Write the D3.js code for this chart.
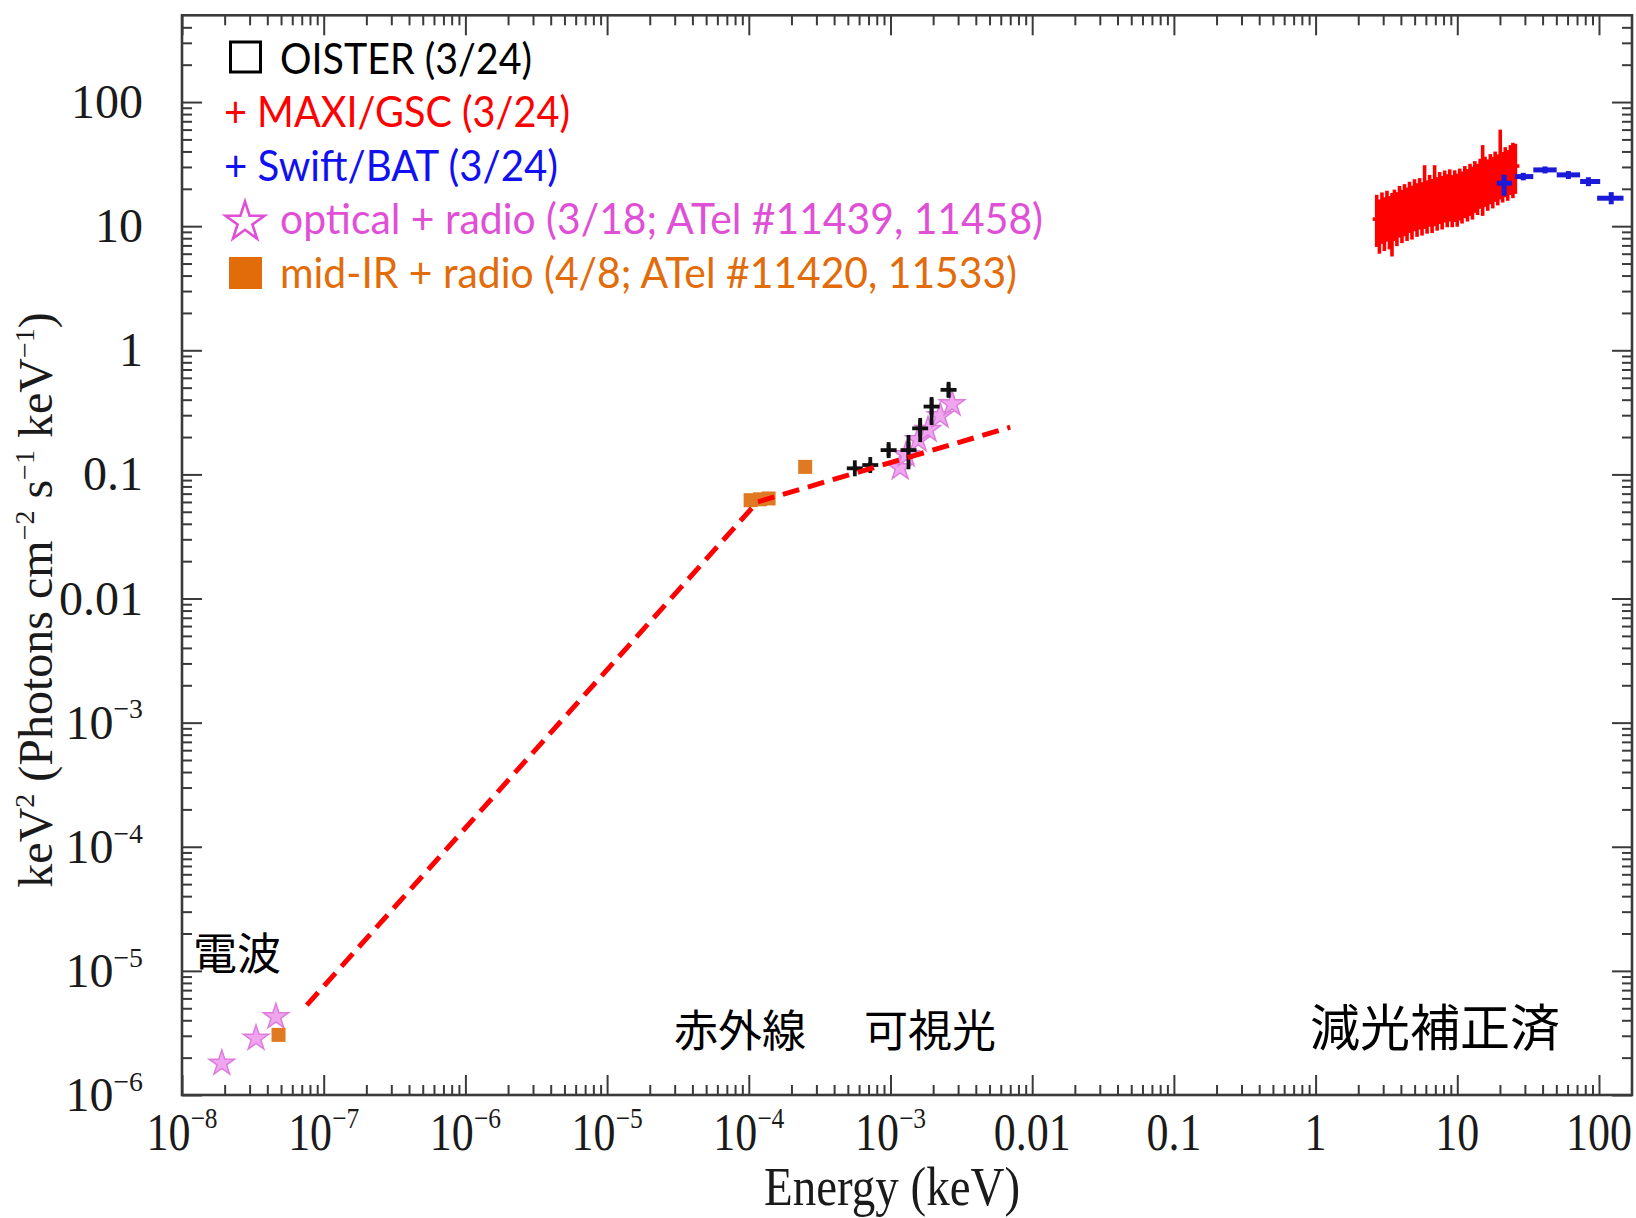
<!DOCTYPE html>
<html><head><meta charset="utf-8">
<script src="https://cdn.jsdelivr.net/npm/d3@7"></script>
<style>body{margin:0;background:#fff;} svg{display:block;}</style>
</head><body>
<svg id="chart" width="1636" height="1218"></svg>
<script>
// ---------- data ----------
const xTickValues = [1e-8, 1e-7, 1e-6, 1e-5, 1e-4, 1e-3, 0.01, 0.1, 1, 10, 100];
const xTickLabels = ["10^−8", "10^−7", "10^−6", "10^−5", "10^−4", "10^−3", "0.01", "0.1", "1", "10", "100"];
const yTickValues = [1e-6, 1e-5, 1e-4, 1e-3, 0.01, 0.1, 1, 10, 100];
const yTickLabels = ["10^−6", "10^−5", "10^−4", "10^−3", "0.01", "0.1", "1", "10", "100"];

// OISTER (black crosses)
const oisterE  = [5.6e-4, 7.2e-4, 9.7e-4, 1.34e-3, 1.62e-3, 1.95e-3, 2.57e-3];
const oisterF  = [0.112, 0.119, 0.157, 0.157, 0.235, 0.352, 0.48];
const oisterLo = [0.106, 0.112, 0.140, 0.110, 0.182, 0.25, 0.42];
const oisterHi = [0.118, 0.126, 0.176, 0.208, 0.285, 0.42, 0.54];

// optical + radio (violet stars)
const starE = [1.91e-8, 3.33e-8, 4.6e-8, 1.17e-3, 1.29e-3, 1.57e-3, 1.84e-3, 2.24e-3, 2.72e-3];
const starF = [1.8e-6, 2.86e-6, 4.27e-6, 0.113, 0.144, 0.19, 0.229, 0.296, 0.37];

// mid-IR + radio (orange squares)
const irE = [4.8e-8, 1.03e-4, 1.2e-4, 1.38e-4, 2.5e-4];
const irF = [3.05e-6, 0.062, 0.063, 0.064, 0.115];

// broken power-law model (red dashed)
const modelE = [7.6e-8, 1.15e-4, 7.0e-3];
const modelF = [5.3e-6, 0.060, 0.24];

// MAXI/GSC (red)
const maxiE = [2.70, 2.82, 2.94, 3.06, 3.19, 3.32, 3.46, 3.60, 3.75, 3.91, 4.07, 4.24, 4.42, 4.60, 4.79, 4.99, 5.20, 5.42, 5.64, 5.88, 6.12, 6.38, 6.64, 6.92, 7.21, 7.51, 7.82, 8.15, 8.49, 8.84, 9.21, 9.59, 9.99, 10.4, 10.8, 11.3, 11.8, 12.3, 12.8, 13.3, 13.9, 14.5, 15.1, 15.7, 16.4, 17.1, 17.8, 18.5, 19.3, 20.1, 20.9, 21.8, 22.7, 23.7, 24.7, 25.7];
const maxiF = [11.4, 10.3, 11.9, 10.8, 12.3, 11.1, 11.6, 12.6, 11.9, 13.4, 12.5, 13.9, 13.0, 14.6, 13.5, 15.2, 14.1, 15.6, 14.4, 16.0, 14.9, 16.5, 15.3, 16.9, 15.8, 17.4, 16.2, 17.9, 16.7, 18.3, 16.4, 18.0, 16.9, 18.6, 17.6, 19.4, 18.4, 20.3, 19.3, 21.3, 21.0, 23.1, 22.0, 24.0, 22.8, 25.2, 23.9, 26.4, 25.0, 27.5, 26.2, 28.7, 27.1, 29.8, 28.4, 30.5];
const maxiLo = [6.8, 6.0, 7.2, 6.3, 7.5, 6.5, 5.7, 7.6, 6.9, 8.1, 7.3, 8.3, 7.6, 8.8, 7.8, 9.1, 8.2, 9.4, 8.4, 9.5, 8.7, 9.9, 8.8, 10.0, 9.2, 10.4, 9.4, 10.7, 9.8, 10.9, 9.8, 10.8, 9.9, 11.1, 10.5, 11.6, 10.9, 12.1, 11.3, 12.8, 12.3, 13.8, 12.1, 14.3, 13.3, 15.0, 13.9, 15.7, 14.7, 16.4, 15.5, 17.1, 16.0, 17.8, 16.8, 18.2];
const maxiHi = [17.9, 16.4, 18.7, 17.1, 19.3, 17.5, 18.5, 19.7, 18.8, 21.1, 19.6, 21.8, 20.5, 22.8, 21.2, 23.9, 22.2, 24.4, 22.6, 31.0, 23.4, 25.9, 24.0, 31.0, 24.8, 27.3, 25.4, 28.1, 26.2, 28.7, 25.8, 28.2, 26.5, 29.1, 27.6, 30.5, 28.9, 31.8, 30.2, 33.4, 31.8, 34.9, 45.0, 36.3, 34.5, 38.1, 36.2, 39.9, 37.9, 60.0, 39.6, 43.3, 41.0, 45.0, 47.0, 46.1];

// Swift/BAT (blue)
const batE   = [21.4, 29.2, 41.6, 60.8, 84.2, 122];
const batElo = [19.0, 25.6, 34.4, 50.3, 73.6, 97];
const batEhi = [24.3, 34.4, 50.3, 73.6, 102, 149];
const batF   = [22.2, 25.1, 28.4, 25.9, 22.9, 16.8];
const batFlo = [17.6, 23.4, 26.6, 24.0, 21.0, 15.0];
const batFhi = [26.0, 26.9, 30.3, 27.8, 24.8, 18.8];

const legendItems = ["OISTER (3/24)", "+ MAXI/GSC (3/24)", "+ Swift/BAT (3/24)", "optical + radio (3/18; ATel #11439, 11458)", "mid-IR + radio (4/8; ATel #11420, 11533)"];
const legendColors = ["#000000", "#ff0000", "#1010f0", "#e050d6", "#e36c0a"];
const bandLabels = ["電波", "赤外線", "可視光", "減光補正済"];

// ---------- layout ----------
const X0 = 182, X1 = 1632, Y0 = 1095, Y1 = 15.3;
const svg = d3.select('#chart');
const x = d3.scaleLog().domain([1e-8, 171]).range([X0, X1]);
const y = d3.scaleLog().domain([1e-6, 500]).range([Y0, Y1]);

const minorX = [], minorY = [];
for (let d = -8; d <= 2; d++) for (let k = 2; k <= 9; k++) { const v = k * Math.pow(10, d); if (v < 171) minorX.push(v); }
for (let d = -6; d <= 2; d++) for (let k = 2; k <= 9; k++) { const v = k * Math.pow(10, d); if (v < 500) minorY.push(v); }

const axisColor = "#3a3a3a";
function styleAxis(g) { g.select('.domain').remove(); g.selectAll('line').attr('stroke', axisColor).attr('stroke-width', 2); }

// ticks (inward)
svg.append('g').attr('transform', `translate(0,${Y0})`).call(d3.axisBottom(x).tickValues(xTickValues).tickSize(-20).tickFormat('')).call(styleAxis);
svg.append('g').attr('transform', `translate(0,${Y0})`).call(d3.axisBottom(x).tickValues(minorX).tickSize(-10).tickFormat('')).call(styleAxis);
svg.append('g').attr('transform', `translate(0,${Y1})`).call(d3.axisTop(x).tickValues(xTickValues).tickSize(-20).tickFormat('')).call(styleAxis);
svg.append('g').attr('transform', `translate(0,${Y1})`).call(d3.axisTop(x).tickValues(minorX).tickSize(-10).tickFormat('')).call(styleAxis);
svg.append('g').attr('transform', `translate(${X0},0)`).call(d3.axisLeft(y).tickValues(yTickValues).tickSize(-20).tickFormat('')).call(styleAxis);
svg.append('g').attr('transform', `translate(${X0},0)`).call(d3.axisLeft(y).tickValues(minorY).tickSize(-10).tickFormat('')).call(styleAxis);
svg.append('g').attr('transform', `translate(${X1},0)`).call(d3.axisRight(y).tickValues(yTickValues).tickSize(-20).tickFormat('')).call(styleAxis);
svg.append('g').attr('transform', `translate(${X1},0)`).call(d3.axisRight(y).tickValues(minorY).tickSize(-10).tickFormat('')).call(styleAxis);

svg.append('rect').attr('x', X0).attr('y', Y1).attr('width', X1 - X0).attr('height', Y0 - Y1)
  .attr('fill', 'none').attr('stroke', axisColor).attr('stroke-width', 2.6);

// tick labels
function addLabel(sel, lab, fs) {
  const parts = lab.split('^');
  sel.append('tspan').text(parts[0]);
  if (parts.length > 1) sel.append('tspan').attr('dy', -fs * 0.42).attr('font-size', fs * 0.58).text(parts[1]);
}
const serif = "'Liberation Serif', 'Times New Roman', serif";
xTickValues.forEach((v, i) => {
  const t = svg.append('text').attr('transform', `translate(${x(v)},1150) scale(1,1.18)`)
    .attr('text-anchor', 'middle').attr('font-family', serif).attr('font-size', 44).attr('fill', '#1a1a1a');
  addLabel(t, xTickLabels[i], 44);
});
yTickValues.forEach((v, i) => {
  const t = svg.append('text').attr('x', 143).attr('y', y(v) + 16)
    .attr('text-anchor', 'end').attr('font-family', serif).attr('font-size', 48).attr('fill', '#1a1a1a');
  addLabel(t, yTickLabels[i], 48);
});

// axis titles
svg.append('text').attr('transform', `translate(892,1205) scale(1,1.15)`).attr('text-anchor', 'middle')
  .attr('font-family', serif).attr('font-size', 47).attr('fill', '#1a1a1a').text('Energy (keV)');
const yt = svg.append('text').attr('transform', 'translate(52,600) rotate(-90)').attr('text-anchor', 'middle')
  .attr('font-family', serif).attr('font-size', 48).attr('fill', '#1a1a1a');
[["keV", 0], ["2", 1], [" (Photons cm", 0], ["−2", 1], [" s", 0], ["−1", 1], [" keV", 0], ["−1", 1], [")", 0]].forEach(([s, sup], i, arr) => {
  const prevSup = i > 0 ? arr[i - 1][1] : 0;
  const ts = yt.append('tspan').text(s);
  if (sup && !prevSup) ts.attr('dy', -18).attr('font-size', 28);
  if (!sup && prevSup) ts.attr('dy', 18);
});

// ---------- data marks ----------
// stars (optical + radio)
const starPath = d3.symbol(d3.symbolStar).size(200)();
svg.append('g').selectAll('path').data(starE).join('path')
  .attr('d', starPath).attr('transform', (d, i) => `translate(${x(d)},${y(starF[i])})`)
  .attr('fill', '#efa6ef').attr('stroke', '#dd7cdd').attr('stroke-width', 1.5);

// orange squares
svg.append('g').selectAll('rect').data(irE).join('rect')
  .attr('x', d => x(d) - 7).attr('y', (d, i) => y(irF[i]) - 7).attr('width', 14).attr('height', 14)
  .attr('fill', '#e07a22');

// OISTER crosses
const og = svg.append('g').attr('stroke', '#111').attr('stroke-width', 3.8);
oisterE.forEach((e, i) => {
  og.append('line').attr('x1', x(e)).attr('x2', x(e)).attr('y1', y(oisterLo[i])).attr('y2', y(oisterHi[i]));
  og.append('line').attr('x1', x(e) - 8).attr('x2', x(e) + 8).attr('y1', y(oisterF[i])).attr('y2', y(oisterF[i]));
  og.append('line').attr('x1', x(e)).attr('x2', x(e)).attr('y1', y(oisterF[i]) - 8).attr('y2', y(oisterF[i]) + 8);
});

// MAXI
const mg = svg.append('g').attr('stroke', '#ff0000').attr('stroke-width', 3.6);
maxiE.forEach((e, i) => {
  mg.append('line').attr('x1', x(e)).attr('x2', x(e)).attr('y1', y(maxiLo[i])).attr('y2', y(maxiHi[i]));
  mg.append('line').attr('x1', x(e) - 4).attr('x2', x(e) + 4).attr('y1', y(maxiF[i])).attr('y2', y(maxiF[i]));
});

// BAT
const bg = svg.append('g').attr('stroke', '#1a1ad8').attr('stroke-width', 5);
batE.forEach((e, i) => {
  bg.append('line').attr('x1', x(batElo[i])).attr('x2', x(batEhi[i])).attr('y1', y(batF[i])).attr('y2', y(batF[i]));
  bg.append('line').attr('x1', x(e)).attr('x2', x(e)).attr('y1', y(batFlo[i])).attr('y2', y(batFhi[i]));
});

// model line
svg.append('path').datum(modelE.map((e, i) => [e, modelF[i]]))
  .attr('d', d3.line().x(d => x(d[0])).y(d => y(d[1])))
  .attr('fill', 'none').attr('stroke', '#ff0000').attr('stroke-width', 5).attr('stroke-dasharray', '17,9');

// ---------- legend ----------
const sans = "Lato, 'Open Sans', sans-serif";
const legX = [280, 224, 224, 280, 280];
const legW = [252, 346, 334, 763, 737];
const legY = [73.5, 127, 180.5, 234, 287.5];
legendItems.forEach((t, i) => {
  svg.append('text').attr('x', legX[i]).attr('y', legY[i]).attr('font-family', sans).attr('font-size', 43)
    .attr('fill', legendColors[i]).attr('textLength', legW[i]).attr('lengthAdjust', 'spacingAndGlyphs').text(t);
});
svg.append('rect').attr('x', 230.5).attr('y', 42).attr('width', 30).attr('height', 30)
  .attr('fill', 'none').attr('stroke', '#000').attr('stroke-width', 3);
svg.append('path').attr('d', d3.symbol(d3.symbolStar).size(470)()).attr('transform', 'translate(245,222)')
  .attr('fill', 'none').attr('stroke', legendColors[3]).attr('stroke-width', 2.6);
svg.append('rect').attr('x', 229).attr('y', 257).attr('width', 33).attr('height', 32).attr('fill', legendColors[4]);

// ---------- band labels ----------
const cjk = "'Noto Sans CJK JP', sans-serif";
const bandX = [193, 674, 864, 1310];
const bandY = [951, 1028, 1028, 1024];
const bandFS = [44, 44, 44, 50];
bandLabels.forEach((t, i) => {
  svg.append('text').attr('x', bandX[i]).attr('y', bandY[i]).attr('dominant-baseline', 'central')
    .attr('font-family', cjk).attr('font-size', bandFS[i]).attr('fill', '#000').text(t);
});
</script>
</body></html>
